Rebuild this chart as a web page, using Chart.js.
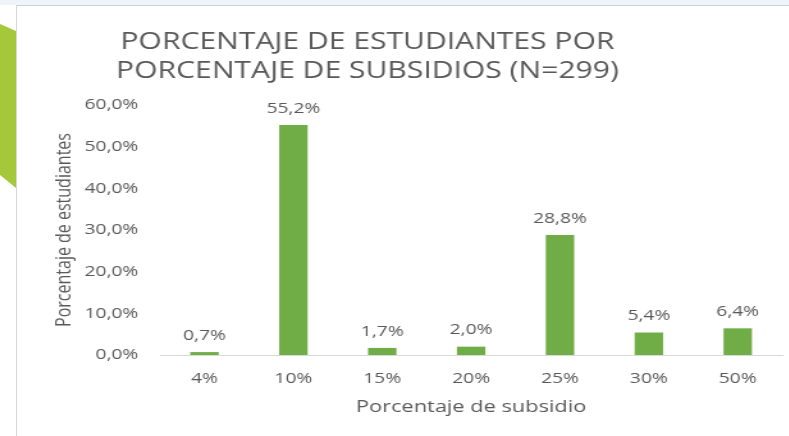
<!DOCTYPE html>
<html>
<head>
<meta charset="utf-8">
<script src="https://cdn.jsdelivr.net/npm/chart.js@4/dist/chart.umd.min.js"></script>
<style>
  html, body { margin: 0; padding: 0; background: #fff; }
  body { width: 789px; height: 436px; position: relative; overflow: hidden; }
  #topstrip { position: absolute; left: 0; top: 0; width: 789px; height: 5px; background: #eef4f9; }
  #topline { position: absolute; left: 17px; top: 5px; width: 772px; height: 1px; background: #c9d1d9; }
  #leftline { position: absolute; left: 16px; top: 5px; width: 1px; height: 431px; background: #d4d8dc; }
  #tab { position: absolute; left: 0; top: 24px; width: 16px; height: 164px; background: #a5c83b;
         clip-path: polygon(0 0, 100% 7px, 100% 100%, 0 151px); }
  /* the chart is laid out narrow and stretched sideways */
  #box { position: absolute; left: 18px; top: 6px; width: 602px; height: 430px;
         transform: scaleX(1.28); transform-origin: 0 0; }
</style>
</head>
<body>
<div id="topstrip"></div>
<div id="topline"></div>
<div id="leftline"></div>
<div id="tab"></div>
<div id="box"><canvas id="subsidy-chart"></canvas></div>
<script>
  var subsidyLabels = ['4%', '10%', '15%', '20%', '25%', '30%', '50%'];
  var studentShare = [0.7, 55.2, 1.7, 2.0, 28.8, 5.4, 6.4];
  var yTicks = [0, 10, 20, 30, 40, 50, 60];
  var titleLines = ['PORCENTAJE DE ESTUDIANTES POR', 'PORCENTAJE DE SUBSIDIOS (N=299)'];

  var textGray = '#595959';
  var fontName = "'Open Sans', sans-serif";

  function pct(v) {
      return v.toFixed(1).replace('.', ',') + '%';
  }

  // two-line heading, drawn on the canvas
  var headingPlugin = {
      id: 'heading',
      afterDraw: function(chart) {
          var ctx = chart.ctx;
          ctx.save();
          ctx.fillStyle = textGray;
          ctx.font = '23.5px ' + fontName;
          ctx.textAlign = 'center';
          ctx.textBaseline = 'middle';
          for (var i = 0; i < titleLines.length; i++) {
              ctx.fillText(titleLines[i], 273, 36.5 + i * 28.5);
          }
          ctx.restore();
      }
  };

  // value labels above each bar
  var valueLabels = {
      id: 'valueLabels',
      afterDatasetsDraw: function(chart) {
          var ctx = chart.ctx;
          var meta = chart.getDatasetMeta(0);
          ctx.save();
          ctx.fillStyle = textGray;
          ctx.font = '15px ' + fontName;
          ctx.textAlign = 'center';
          ctx.textBaseline = 'bottom';
          meta.data.forEach(function(bar, i) {
              ctx.fillText(pct(studentShare[i]), bar.x, bar.y - 9);
          });
          ctx.restore();
      }
  };

  var chartConfig = {
      type: 'bar',
      data: {
          labels: subsidyLabels,
          datasets: [{
              data: studentShare,
              backgroundColor: '#70ad47',
              barPercentage: 0.32,
              categoryPercentage: 1.0
          }]
      },
      options: {
          responsive: true,
          maintainAspectRatio: false,
          animation: false,
          layout: {
              padding: { top: 99, left: 27, right: 5, bottom: 19 }
          },
          plugins: {
              legend: { display: false },
              title: { display: false },
              tooltip: { enabled: false }
          },
          scales: {
              x: {
                  afterFit: function(axis) { axis.height = 62; },
                  grid: { display: false, drawTicks: false },
                  border: { color: '#d9d9d9', width: 1 },
                  ticks: { color: textGray, font: { family: fontName, size: 15 }, padding: 15, maxRotation: 0 },
                  title: {
                      display: true,
                      text: 'Porcentaje de subsidio',
                      color: textGray,
                      font: { family: fontName, size: 17 },
                      padding: { top: 0, bottom: 0 }
                  }
              },
              y: {
                  min: 0,
                  max: 60,
                  afterFit: function(axis) { axis.width = 84; },
                  afterBuildTicks: function(axis) {
                      axis.ticks = yTicks.map(function(v) { return { value: v }; });
                  },
                  grid: { display: false, drawTicks: false },
                  border: { display: false },
                  ticks: {
                      color: textGray,
                      font: { family: fontName, size: 15 },
                      padding: 17,
                      callback: function(v) { return pct(v); }
                  },
                  title: {
                      display: true,
                      text: 'Porcentaje de estudiantes',
                      color: textGray,
                      font: { family: fontName, size: 16 },
                      padding: { top: 0, bottom: 4 }
                  }
              }
          }
      },
      plugins: [headingPlugin, valueLabels]
  };

  window.onload = function() {
      var ctx = document.getElementById('subsidy-chart').getContext('2d');
      window.subsidyChart = new Chart(ctx, chartConfig);
  };
</script>
</body>
</html>
